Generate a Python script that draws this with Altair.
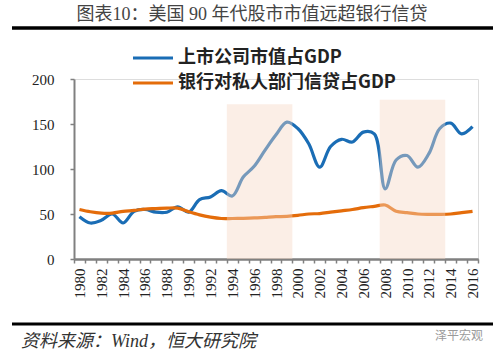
import altair as alt
import pandas as pd

years = list(range(1980, 2017))
market_cap = [47, 40, 43, 50, 40, 53, 55, 52, 52, 58,
              52, 66, 69, 76, 70, 91, 103, 121, 138, 152,
              145, 128, 102, 125, 133, 130, 141, 139, 78, 110,
              115, 102, 117, 145, 151, 139, 147]
bank_credit = [55, 52.5, 51, 51, 53, 54, 55.5, 56, 56.5, 56.5,
               52.5, 49, 46.5, 45, 45, 45.2, 45.6, 46.3, 47, 47.4,
               48.5, 50, 50.5, 52, 53.5, 55, 57, 58.5, 60, 53,
               51.5, 50, 49.6, 49.6, 50, 51.5, 53]
series_names = ["上市公司市值占GDP", "银行对私人部门信贷占GDP"]
series_colors = ["#1A6DB5", "#E46C0A"]
shade_start = [1993.5, 2007.5]
shade_end = [1999.5, 2013.5]
shade_top = [172, 177]
y_ticks = [0, 50, 100, 150, 200]
label_years = years[::2]
tick_bounds = [y - 0.5 for y in years] + [years[-1] + 0.5]

title_text = "图表10：美国 90 年代股市市值远超银行信贷"
source_text = "资料来源：Wind，恒大研究院"
watermark = "泽平宏观"

df = pd.DataFrame({
    "year": years * 2,
    "value": market_cap + bank_credit,
    "series": [series_names[0]] * len(years) + [series_names[1]] * len(years),
})
shade_df = pd.DataFrame({"x1": shade_start, "x2": shade_end, "top": shade_top})
one = pd.DataFrame({"a": [0]})

xscale = alt.Scale(domain=[1979.5, 2016.5], nice=False, zero=False)
yscale = alt.Scale(domain=[0, 200], nice=False)

serif_cjk = "Liberation Serif, Noto Sans CJK SC"

lines = alt.Chart(df).mark_line(strokeWidth=3.2, interpolate="catmull-rom").encode(
    x=alt.X("year:Q", scale=xscale,
            axis=alt.Axis(values=label_years, format="d", orient="bottom",
                          labelAngle=270, labelFont="Liberation Serif",
                          labelFontSize=15, labelColor="#222222",
                          labelPadding=9, ticks=False,
                          domainColor="#808080", domainWidth=2,
                          grid=False, title=None, labelOverlap=False)),
    y=alt.Y("value:Q", scale=yscale,
            axis=alt.Axis(values=y_ticks, labelFont="Liberation Serif",
                          labelFontSize=15, labelColor="#222222",
                          labelPadding=16, tickSize=4, tickColor="#808080",
                          tickWidth=1.5, domainColor="#808080", domainWidth=2,
                          grid=False, title=None)),
    color=alt.Color("series:N", scale=alt.Scale(domain=series_names, range=series_colors), legend=None),
)

shade = alt.Chart(shade_df).mark_rect(color="#F5D6C3", opacity=0.42).encode(
    x=alt.X("x1:Q", scale=xscale,
            axis=alt.Axis(values=tick_bounds, orient="bottom", labels=False,
                          tickSize=4, tickColor="#808080", tickWidth=1.5,
                          domainColor="#808080", domainWidth=2,
                          grid=False, title=None)),
    x2="x2:Q",
    y=alt.Y("top:Q", scale=yscale),
    y2=alt.datum(0),
)

def txt(text, x, y, size, **kw):
    return alt.Chart(one).mark_text(fontSize=size, **kw).encode(
        x=alt.value(x), y=alt.value(y), text=alt.value(text))

def rule(x1, x2, y, color, width):
    return alt.Chart(one).mark_rule(color=color, strokeWidth=width).encode(
        x=alt.value(x1), x2=alt.value(x2), y=alt.value(y))

layers = [
    lines,
    shade,
    txt(title_text, 178, -64, 18, font=serif_cjk, color="#444444", align="center", baseline="middle"),
    rule(-62, 419, -51, "#000000", 3.5),
    rule(59, 99, -21, series_colors[0], 3.2),
    rule(59, 99, 4, series_colors[1], 3.2),
    txt(series_names[0], 104, -21, 18, font="Noto Sans CJK SC", fontWeight="bold", color="#222222", align="left", baseline="middle"),
    txt(series_names[1], 104, 4, 18, font="Noto Sans CJK SC", fontWeight="bold", color="#222222", align="left", baseline="middle"),
    rule(-62, 419, 245, "#000000", 3),
    txt(source_text, -53, 263, 18, font=serif_cjk, fontStyle="italic", color="#333333", align="left", baseline="middle"),
    txt(watermark, 385, 257, 12, font="Noto Sans CJK SC", color="#9A9A9A", align="center", baseline="middle"),
]

chart = alt.layer(*layers).resolve_axis(x="independent").properties(
    width=404, height=180,
    autosize=alt.AutoSizeParams(type="none"),
    padding={"left": 74, "top": 79, "right": 21, "bottom": 98},
).configure_view(stroke=None).configure(background="white")

chart.save("out.html", embed_options={"renderer": "svg", "actions": False})
